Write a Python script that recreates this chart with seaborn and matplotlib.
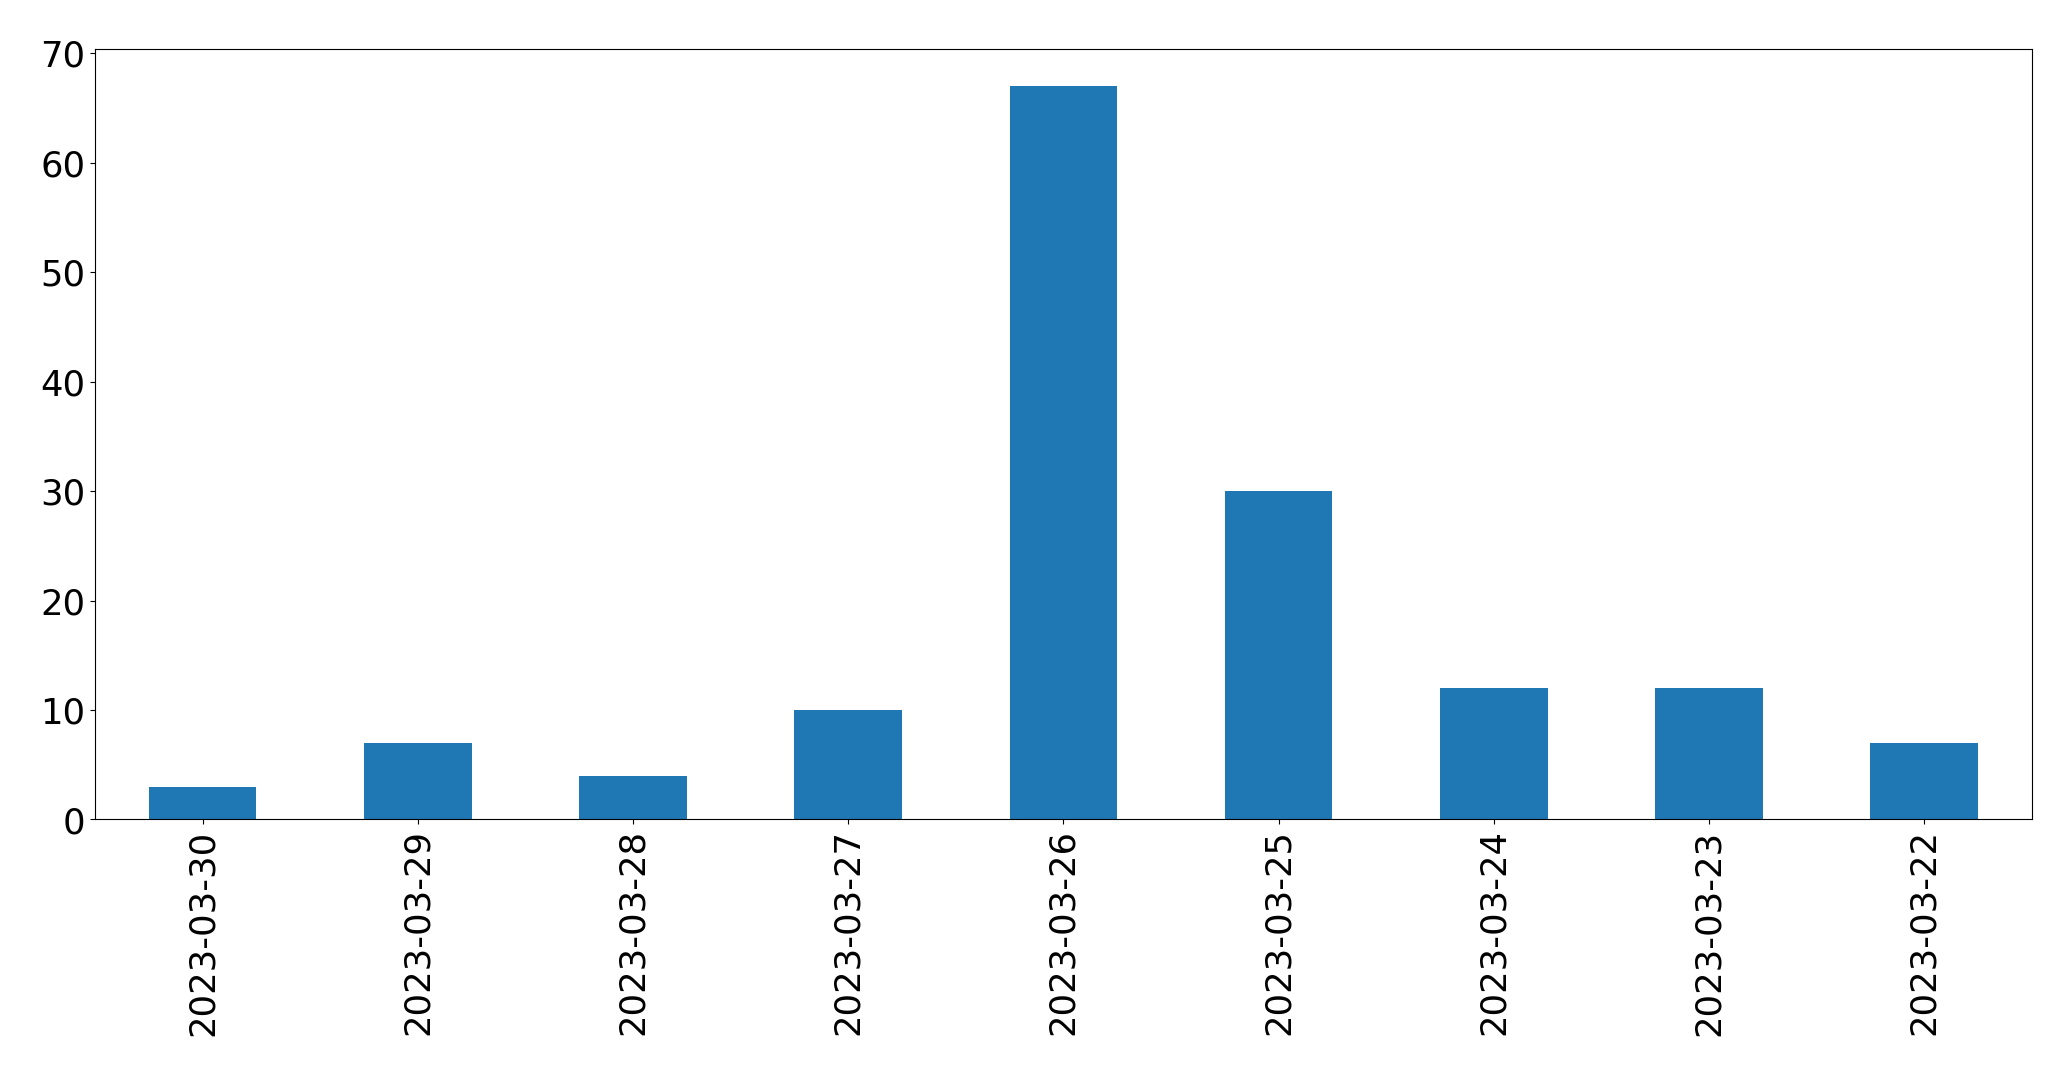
import matplotlib
matplotlib.use("Agg")
import matplotlib.pyplot as plt
import seaborn as sns
import pandas as pd

dates = ['2023-03-30', '2023-03-29', '2023-03-28', '2023-03-27', '2023-03-26',
         '2023-03-25', '2023-03-24', '2023-03-23', '2023-03-22']
counts = [3, 7, 4, 10, 67, 30, 12, 12, 7]

df = pd.DataFrame({'date': dates, 'count': counts})

fig = plt.figure(figsize=(20.712, 10.712), dpi=100)
ax = fig.add_axes([95 / 2071, 1 - 819.5 / 1071, (2031.5 - 95) / 2071, (819.5 - 49.5) / 1071])

sns.barplot(data=df, x='date', y='count', color='#1f77b4', saturation=1, width=0.5, ax=ax)

ax.set_xlim(-0.5, len(dates) - 0.5)
ax.set_ylim(0, max(counts) * 1.05)
ax.set_xlabel('')
ax.set_ylabel('')
ax.tick_params(axis='both', labelsize=25.5)
ax.tick_params(axis='x', labelrotation=90)

fig.savefig('out.png', dpi=100)
